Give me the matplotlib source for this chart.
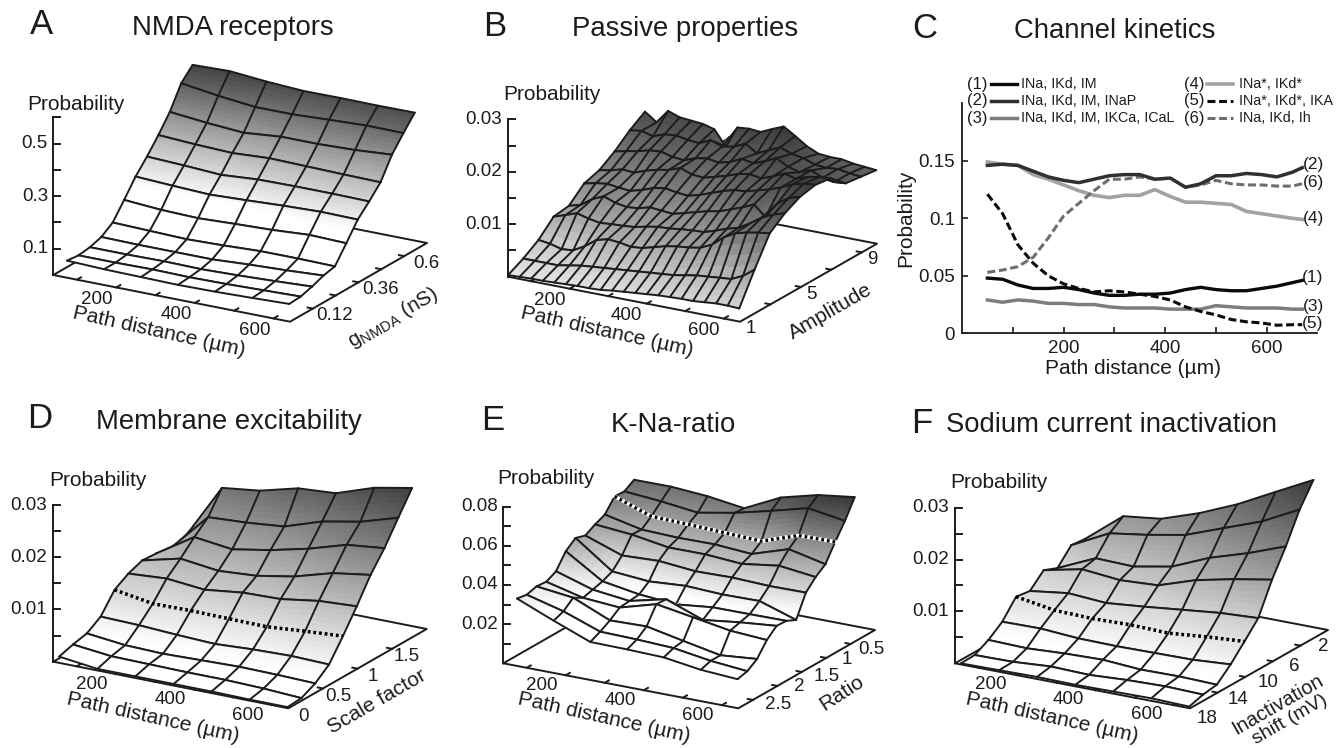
import numpy as np
import matplotlib
matplotlib.use("Agg")
import matplotlib.pyplot as plt
from matplotlib.colors import LinearSegmentedColormap, Normalize
from matplotlib.lines import Line2D
from mpl_toolkits.mplot3d import proj3d

plt.rcParams['font.family'] = ['Liberation Sans', 'DejaVu Sans']
plt.rcParams['mathtext.fontset'] = 'custom'
plt.rcParams['mathtext.rm'] = 'Liberation Sans'

W, H = 1344, 748

# ---------------- data ----------------
xA = [75, 169, 263, 357, 451, 546, 640]
yA = [0, .06, .12, .18, .24, .30, .36, .42, .48, .54, .60, .66]
zA = [[.065, .060, .058, .056, .058, .062, .067],
      [.060, .060, .062, .060, .062, .066, .070],
      [.066, .066, .068, .066, .070, .076, .083],
      [.080, .078, .078, .078, .086, .092, .100],
      [.110, .106, .102, .106, .112, .112, .110],
      [.171, .161, .157, .163, .168, .177, .173],
      [.235, .228, .222, .228, .235, .240, .238],
      [.286, .280, .272, .282, .284, .284, .282],
      [.343, .335, .330, .338, .335, .332, .330],
      [.406, .392, .382, .395, .395, .400, .410],
      [.490, .470, .455, .455, .462, .468, .467],
      [.535, .539, .527, .519, .520, .519, .520]]

xB = [40, 70, 100, 130, 160, 190, 220, 250, 280, 310, 340, 370, 400, 430, 460, 490, 520, 550, 580, 610, 640]
yB = [1, 2, 3, 4, 5, 6, 7, 8, 9, 10]
zB = [[.0003, .0004, .0005, .0005, .0006, .0007, .0008, .0008, .0009, .0012, .0014, .0016, .0018, .0020, .0021, .0022, .0022, .0024, .0026, .0026, .0025],
      [.0018, .0018, .0018, .0018, .0022, .0026, .0028, .0030, .0032, .0034, .0036, .0038, .0040, .0042, .0046, .0050, .0052, .0054, .0056, .0066, .0082],
      [.0037, .0034, .0028, .0030, .0042, .0058, .0064, .0062, .0058, .0060, .0066, .0072, .0076, .0078, .0082, .0092, .0110, .0122, .0128, .0132, .0135],
      [.0065, .0072, .0080, .0074, .0070, .0072, .0073, .0075, .0080, .0084, .0085, .0088, .0090, .0091, .0098, .0106, .0112, .0125, .0140, .0150, .0157],
      [.0069, .0075, .0090, .0100, .0092, .0088, .0090, .0096, .0094, .0092, .0098, .0104, .0110, .0114, .0122, .0130, .0140, .0120, .0150, .0165, .0172],
      [.0095, .0100, .0103, .0100, .0098, .0104, .0112, .0116, .0112, .0110, .0116, .0124, .0132, .0138, .0140, .0146, .0152, .0160, .0170, .0176, .0178],
      [.0104, .0108, .0114, .0112, .0120, .0126, .0130, .0138, .0130, .0128, .0134, .0140, .0148, .0152, .0148, .0156, .0166, .0160, .0168, .0172, .0174],
      [.0123, .0128, .0132, .0138, .0140, .0134, .0132, .0140, .0144, .0140, .0146, .0156, .0152, .0160, .0170, .0158, .0152, .0160, .0150, .0146, .0148],
      [.0147, .0150, .0144, .0152, .0154, .0150, .0148, .0158, .0150, .0154, .0164, .0150, .0160, .0170, .0162, .0158, .0150, .0148, .0150, .0146, .0144],
      [.0166, .0150, .0176, .0168, .0166, .0164, .0158, .0129, .0170, .0172, .0170, .0180, .0189, .0175, .0160, .0150, .0148, .0148, .0144, .0142, .0140]]

xD = [55, 153, 250, 348, 445, 543, 640]
yD = [0, .2, .4, .6, .8, 1.0, 1.2, 1.4, 1.6, 1.8]
zD = [[.0012, .0003, .0003, .0003, .0003, .0002, .0002],
      [.0020, .0012, .0011, .0010, .0010, .0008, .0004],
      [.0026, .0018, .0016, .0018, .0020, .0019, .0017],
      [.0043, .0041, .0037, .0034, .0038, .0040, .0038],
      [.0079, .0067, .0068, .0067, .0066, .0072, .0077],
      [.0095, .0100, .0093, .0102, .0104, .0115, .0119],
      [.0105, .0123, .0114, .0119, .0132, .0153, .0164],
      [.0103, .0149, .0140, .0153, .0170, .0192, .0200],
      [.0097, .0172, .0176, .0183, .0207, .0221, .0243],
      [.0101, .0213, .0222, .0241, .0246, .0271, .0285]]

xE = [75, 169, 263, 357, 451, 546, 640]
yE = [2.8, 2.6, 2.4, 2.2, 2.0, 1.8, 1.6, 1.4, 1.2, 1.0, 0.8, 0.6, 0.4]
zE = [[.0344, .0267, .0194, .0192, .0187, .0160, .0148],
      [.0335, .0286, .0218, .0214, .0206, .0177, .0160],
      [.0349, .0327, .0247, .0252, .0214, .0177, .0194],
      [.0344, .0298, .0284, .0337, .0306, .0274, .0262],
      [.0369, .0311, .0289, .0334, .0264, .0288, .0306],
      [.0443, .0325, .0294, .0279, .0300, .0301, .0303],
      [.0482, .0347, .0332, .0345, .0337, .0340, .0279],
      [.0466, .0400, .0408, .0391, .0395, .0388, .0390],
      [.0494, .0478, .0448, .0449, .0436, .0463, .0441],
      [.0516, .0475, .0469, .0471, .0458, .0519, .0478],
      [.0580, .0514, .0509, .0502, .0495, .0560, .0563],
      [.0577, .0562, .0540, .0575, .0621, .0671, .0642],
      [.0608, .0609, .0596, .0570, .0661, .0710, .0735]]

xF = [55, 153, 250, 348, 445, 543, 640]
yF = [20, 18, 16, 14, 12, 10, 8, 6, 4, 2]
zF = [[.0002, .0003, .0004, .0003, .0004, .0005, .0003],
      [.0003, .0004, .0009, .0007, .0011, .0013, .0011],
      [.0017, .0015, .0019, .0021, .0016, .0017, .0015],
      [.0037, .0038, .0033, .0032, .0033, .0034, .0039],
      [.0070, .0058, .0056, .0058, .0056, .0063, .0068],
      [.0066, .0076, .0071, .0078, .0086, .0094, .0098],
      [.0091, .0107, .0100, .0104, .0128, .0144, .0157],
      [.0080, .0113, .0111, .0125, .0156, .0179, .0206],
      [.0109, .0146, .0157, .0171, .0198, .0225, .0262],
      [.0106, .0164, .0173, .0198, .0229, .0267, .0304]]

xC = [50, 80, 110, 140, 170, 200, 230, 260, 290, 320, 350, 380, 410, 440, 470, 500, 530, 560, 590, 620, 650, 670]
c1 = [.048, .047, .042, .039, .039, .040, .038, .035, .033, .033, .034, .034, .035, .038, .040, .038, .037, .037, .039, .041, .044, .046]
c2 = [.146, .147, .146, .141, .136, .133, .131, .134, .137, .138, .138, .134, .135, .127, .130, .137, .137, .139, .138, .136, .140, .144]
c3 = [.029, .027, .029, .028, .026, .026, .025, .025, .023, .022, .022, .022, .021, .021, .021, .024, .023, .022, .022, .022, .021, .021]
c4 = [.149, .147, .146, .138, .134, .129, .124, .120, .118, .120, .120, .125, .119, .114, .114, .113, .112, .106, .104, .102, .100, .099]
c5 = [.121, .104, .077, .061, .050, .043, .039, .036, .037, .036, .034, .032, .029, .023, .019, .016, .012, .010, .009, .007, .0075, .0075]
c6 = [.053, .055, .058, .066, .083, .102, .113, .124, .134, .134, .136, .134, .135, .127, .129, .133, .130, .129, .129, .128, .128, .130]
legend_left = ["INa, IKd, IM", "INa, IKd, IM, INaP", "INa, IKd, IM, IKCa, ICaL"]
legend_right = ["INa*, IKd*", "INa*, IKd*, IKA", "INa, IKd, Ih"]

fig = plt.figure(figsize=(W / 100, H / 100), dpi=100, facecolor='white')
INK = '#1c1c1c'


def T(px, py, s, size=13, ha='center', va='center', rot=0, **kw):
    return fig.text(px / W, 1 - py / H, s, fontsize=size, ha=ha, va=va, rotation=rot,
                    rotation_mode='anchor', color=INK, **kw)


def to_px(ax, x, y, z):
    a, b, _ = proj3d.proj_transform(x, y, z, ax.get_proj())
    return ax.transData.transform((a, b))


def surface_axes(O, X, Y, zscale, xlim, ylim, ztop):
    """3D axes whose orthographic view puts the box corners on the pixel anchors."""
    O, X, Y = [np.array(p, float) for p in (O, X, Y)]
    a, b = X[0] - O[0], X[1] - O[1]
    c, d = Y[0] - X[0], X[1] - Y[1]
    h = zscale * ztop
    sel = np.sqrt(b * d / (a * c))
    cel = np.sqrt(1 - sel ** 2)
    az = np.arctan2(a * sel, b)
    ax = fig.add_axes([0.2, 0.2, 0.5, 0.5 * W / H], projection='3d',
                      proj_type='ortho', computed_zorder=False)
    ax.set_axis_off()
    ax.patch.set_visible(False)
    ax.view_init(elev=np.degrees(np.arcsin(sel)), azim=-np.degrees(az))
    ax.set_box_aspect((a / np.sin(az), c / np.cos(az), h / cel))
    ax.set_xlim(*xlim, view_margin=0)
    ax.set_ylim(*ylim, view_margin=0)
    ax.set_zlim(0, ztop, view_margin=0)
    ax.set_autoscale_on(False)
    S = 0.5 * W
    cx, cy = 0.45 * W, 0.5 * H
    for _ in range(3):
        ax.set_position([(cx - S / 2) / W, (cy - S / 2) / H, S / W, S / H])
        ax.apply_aspect()
        p0 = to_px(ax, xlim[0], ylim[0], 0)
        p1 = to_px(ax, xlim[1], ylim[0], 0)
        ratio = np.hypot(a, b) / np.hypot(*(p1 - p0))
        S *= ratio
        ax.set_position([(cx - S / 2) / W, (cy - S / 2) / H, S / W, S / H])
        ax.apply_aspect()
        p0 = to_px(ax, xlim[0], ylim[0], 0)
        cx += O[0] - p0[0]
        cy += (H - O[1]) - p0[1]
    ax.set_position([(cx - S / 2) / W, (cy - S / 2) / H, S / W, S / H])
    ax.apply_aspect()
    return ax


def draw_frame(ax, xlim, ylim, ztop, xticks, yticks, zmajor, zminor, zr,
               xoff, ylabels, yoffs, zfmt, xtick_extra=(100, 300, 500)):
    x0, x1 = xlim
    y0, y1 = ylim
    k = dict(color=INK, lw=1.4, zorder=1, solid_capstyle='projecting')
    ax.plot([x0, x1, x1, x0, x0], [y0, y0, y1, y1, y0], [0, 0, 0, 0, 0], **k)
    ax.plot([x0, x0], [y0, y0], [0, ztop], **k)
    dy = (y1 - y0) * 0.03
    dx = (x1 - x0) * 0.022
    for t in list(xticks) + list(xtick_extra):
        ax.plot([t, t], [y0, y0 + dy], [0, 0], **k)
    for t in yticks:
        ax.plot([x1, x1 - dx], [t, t], [0, 0], **k)
    # z ticks drawn horizontally on screen
    o = to_px(ax, x0, y0, 0)
    ex = to_px(ax, x1, y0, 0) - o
    ey = to_px(ax, x0, y1, 0) - o
    fx, fy = np.linalg.solve(np.array([[ex[0], ey[0]], [ex[1], ey[1]]]), [6.5, 0])
    for t in list(zmajor) + list(zminor):
        ax.plot([x0, x0 + fx * (x1 - x0)], [y0, y0 + fy * (y1 - y0)], [t, t], **k)
    for t in zmajor:
        p = to_px(ax, x0, y0, t)
        T(zr, H - p[1], zfmt(t), size=13.5, ha='right')
    for t in (200, 400, 600):
        p = to_px(ax, t, y0, 0)
        T(p[0] + xoff[0], H - p[1] + xoff[1], str(t), size=13.5)
    for (t, lab), off in zip(ylabels, yoffs):
        p = to_px(ax, x1, t, 0)
        T(p[0] + off[0], H - p[1] + off[1], lab, size=13.5)


def draw_surface(ax, xs, ys, zs, cmap, norm, dotted=None, dot_white=False, n=6):
    xs, ys, zs = np.array(xs, float), np.array(ys, float), np.array(zs, float)
    nr, nc = zs.shape
    t = np.linspace(0, 1, n + 1)
    line = dict(color=INK, lw=1.4, solid_capstyle='round', solid_joinstyle='round')
    order = 10
    # back to front, so every strip hides what lies behind it
    for r in range(nr - 2, -1, -1):
        for c in range(nc - 1):
            # shading cells inside one grid cell; the marks stay on the data grid
            X = np.outer(np.ones(n + 1), xs[c] + t * (xs[c + 1] - xs[c]))
            Y = np.outer(ys[r] + t * (ys[r + 1] - ys[r]), np.ones(n + 1))
            Zl = zs[r, c] + t * (zs[r + 1, c] - zs[r, c])
            Zr = zs[r, c + 1] + t * (zs[r + 1, c + 1] - zs[r, c + 1])
            Z = np.outer(Zl, 1 - t) + np.outer(Zr, t)
            ax.plot_surface(X, Y, Z, rstride=1, cstride=1, facecolors=cmap(norm(Z)),
                            shade=False, linewidth=0, antialiased=False, zorder=order)
        order += 1
        for c in range(nc):
            ax.plot([xs[c], xs[c]], [ys[r], ys[r + 1]], [zs[r, c], zs[r + 1, c]], zorder=order, **line)
        for rr in (r + 1, r):
            if dotted == rr:
                if dot_white:
                    ax.plot(xs, [ys[rr]] * nc, zs[rr], color='white', lw=2.6, zorder=order + 0.5)
                ax.plot(xs, [ys[rr]] * nc, zs[rr], color='black', lw=2.4, ls=(0, (0.8, 0.9)),
                        zorder=order + 0.6)
            else:
                ax.plot(xs, [ys[rr]] * nc, zs[rr], zorder=order + 0.2, **line)
        order += 1


def gray(top, low='#ffffff'):
    return LinearSegmentedColormap.from_list('g', [low, top])


def fmt(nd):
    return lambda v: f"{v:.{nd}f}"


TITLE = 19.8
LETTER = 25

# ---------------- panel A ----------------
ax = surface_axes((53.3, 275), (290, 321.7), (427, 243), 263, (40, 642), (0, .72), .6)
draw_frame(ax, (40, 642), (0, .72), .6, (200, 400, 600), (.12, .24, .36, .48, .6),
           (.1, .3, .5), (.2, .4, .6), 48, (-19, 12),
           [(.12, '0.12'), (.36, '0.36'), (.6, '0.6')], [(22, 7)] * 3, fmt(1))
draw_surface(ax, xA, yA, zA, gray('#3a3a3a'), Normalize(.2, .55))
T(42, 24, 'A', size=LETTER)
T(233, 28, 'NMDA receptors', size=TITLE)
T(76, 105, 'Probability', size=15)
T(159, 332, 'Path distance (µm)', size=15, rot=-12.5)
T(393, 318, r'g$_{\mathrm{NMDA}}$ (nS)', size=15, rot=30)

# ---------------- panel B ----------------
ax = surface_axes((508, 276.7), (740, 321.7), (877, 243.7), 5244, (40, 642), (1, 10), .03)
draw_frame(ax, (40, 642), (1, 10), .03, (200, 400, 600), (3, 5, 7, 9),
           (.01, .02, .03), (.005, .015, .025), 502, (-20, 12),
           [(1, '1'), (5, '5'), (9, '9')], [(11, 7)] * 3, fmt(2))
draw_surface(ax, xB, yB, zB, gray('#3c3c3c', '#e6e6e6'), Normalize(0, .018), n=4)
T(495, 27, 'B', size=LETTER)
T(685, 29, 'Passive properties', size=TITLE)
T(552, 95, 'Probability', size=15)
T(607, 332, 'Path distance (µm)', size=15, rot=-12.5)
T(830, 312, 'Amplitude', size=15, rot=30)

# ---------------- panel C ----------------
axc = fig.add_axes([962 / W, 1 - 333.3 / H, (1317 - 962) / W, (333.3 - 103.3) / H])
axc.patch.set_visible(False)
styles = [dict(color='#0a0a0a', lw=2.4),
          dict(color='#303030', lw=2.5),
          dict(color='#7d7d7d', lw=2.5),
          dict(color='#a2a2a2', lw=2.6),
          dict(color='#0a0a0a', lw=2.2, ls=(0, (2.6, 1.2))),
          dict(color='#6e6e6e', lw=2.2, ls=(0, (2.6, 1.2)))]
series = [c1, c2, c3, c4, c5, c6]
draw_order = [3, 5, 1, 2, 4, 0]
for i in draw_order:
    axc.plot(xC, series[i], zorder=3, **styles[i])
axc.set_xlim(0, 699)
axc.set_ylim(0, .2)
axc.set_xticks([200, 400, 600])
axc.set_xticks([100, 300, 500], minor=True)
axc.set_yticks([0, .05, .1, .15])
axc.set_yticklabels(['0', '0.05', '0.1', '0.15'])
axc.tick_params(which='both', direction='in', length=4.5, width=1.2, labelsize=13.5, color=INK,
                labelcolor=INK, pad=5)
for s in ('top', 'right'):
    axc.spines[s].set_visible(False)
for s in ('left', 'bottom'):
    axc.spines[s].set_linewidth(1.3)
    axc.spines[s].set_color(INK)
T(925, 29, 'C', size=LETTER)
T(1115, 31, 'Channel kinetics', size=TITLE)
T(906, 218, 'Probability', size=15, rot=90)
T(1133, 368, 'Path distance (µm)', size=15)
for j, yy in enumerate((84, 100.7, 118.3)):
    T(977.5, yy, f'({j + 1})', size=12)
    fig.add_artist(Line2D([991 / W, 1017 / W], [1 - yy / H] * 2, **styles[j]))
    T(1021, yy, legend_left[j], size=10.3, ha='left')
    T(1194.5, yy, f'({j + 4})', size=12)
    fig.add_artist(Line2D([1207 / W, 1233 / W], [1 - yy / H] * 2, **styles[j + 3]))
    T(1239, yy, legend_right[j], size=10.3, ha='left')
for lab, yy in zip(('(2)', '(6)', '(4)', '(1)', '(3)', '(5)'), (164, 182, 218, 278, 307, 324)):
    T(1313, yy, lab, size=12.5)

# ---------------- panel D ----------------
ax = surface_axes((53.3, 661.7), (288.3, 708.3), (426.7, 629), 5222, (40, 642), (0, 2), .03)
draw_frame(ax, (40, 642), (0, 2), .03, (200, 400, 600), (.5, 1, 1.5),
           (.01, .02, .03), (.005, .015, .025), 47, (-24, 10),
           [(0, '0'), (.5, '0.5'), (1, '1'), (1.5, '1.5')], [(15, 8)] * 4, fmt(2))
draw_surface(ax, xD, yD, zD, gray('#3a3a3a'), Normalize(.002, .029), dotted=4)
T(40, 419, 'D', size=LETTER)
T(228.5, 422, 'Membrane excitability', size=TITLE)
T(98, 480, 'Probability', size=15)
T(153, 718, 'Path distance (µm)', size=15, rot=-12.5)
T(377, 702, 'Scale factor', size=15, rot=30)

# ---------------- panel E ----------------
ax = surface_axes((503.3, 663.3), (738.3, 708.3), (875, 630), 1958, (40, 642), (2.8, 0), .08)
draw_frame(ax, (40, 642), (2.8, 0), .08, (200, 400, 600), (2.5, 2, 1.5, 1, .5),
           (.02, .04, .06, .08), (.01, .03, .05, .07), 498, (-24, 10),
           [(2.5, '2.5'), (2, '2'), (1.5, '1.5'), (1, '1'), (.5, '0.5')],
           [(25, 5), (22, 1), (25, 5), (21, 2), (21, 6)], fmt(2))
draw_surface(ax, xE, yE, zE, gray('#383838'), Normalize(.03, .072), dotted=10, dot_white=True)
T(493, 421, 'E', size=LETTER)
T(673, 425, 'K-Na-ratio', size=TITLE)
T(546, 479, 'Probability', size=15)
T(604, 718, 'Path distance (µm)', size=15, rot=-12.5)
T(842, 693, 'Ratio', size=15, rot=33)

# ---------------- panel F ----------------
ax = surface_axes((955, 663.3), (1190, 708.3), (1328, 630), 5189, (40, 642), (20, 0), .03)
draw_frame(ax, (40, 642), (20, 0), .03, (200, 400, 600), (16, 12, 8, 4),
           (.01, .02, .03), (.005, .015, .025), 949, (-27, 9),
           [(18, '18'), (14, '14'), (10, '10'), (6, '6'), (2, '2')],
           [(3, 18), (7, 15), (9, 13), (8, 13), (9, 9)], fmt(2))
draw_surface(ax, xF, yF, zF, gray('#383838'), Normalize(.002, .030), dotted=4)
T(922, 423, 'F', size=LETTER)
T(1112, 425, 'Sodium current inactivation', size=TITLE)
T(999, 482, 'Probability', size=15)
T(1052, 718, 'Path distance (µm)', size=15, rot=-12.5)
T(1278, 705, 'Inactivation', size=14.5, rot=30)
T(1290, 720, 'shift (mV)', size=14, rot=30)

fig.savefig('out.png', dpi=100)
